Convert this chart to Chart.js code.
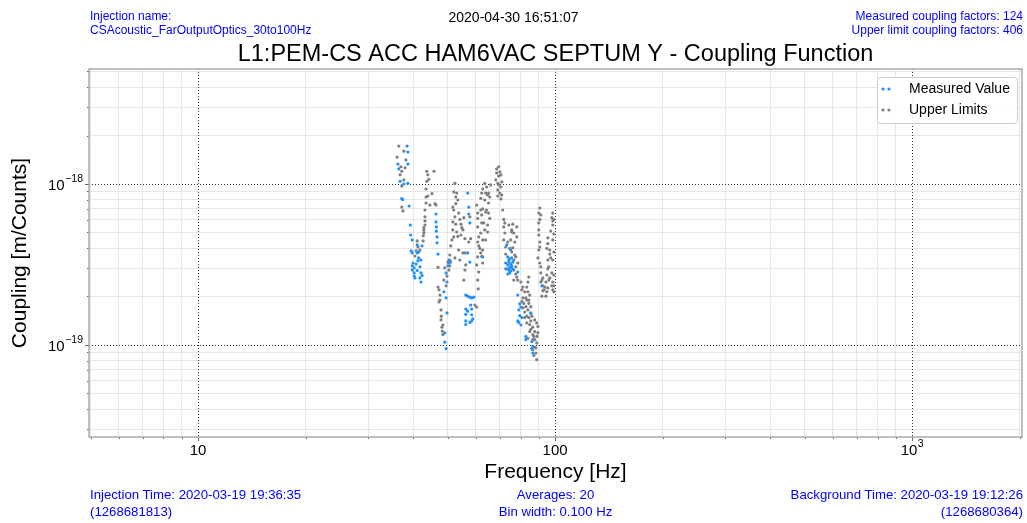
<!DOCTYPE html>
<html>
<head>
<meta charset="utf-8">
<script src="https://cdn.jsdelivr.net/npm/chart.js@4"></script>
<style>
  html, body { margin: 0; padding: 0; background: #fff; }
  #wrap { position: relative; width: 1027px; height: 523px; }
  #coupling { position: absolute; left: 0; top: 0; }
  .note {
    position: absolute; white-space: nowrap; color: #0000ff;
    font-family: 'Liberation Sans', Arial, sans-serif;
  }
  .head { font-size: 12px; line-height: 14px; top: 9px; }
  .foot { font-size: 13.2px; line-height: 17px; top: 486px; }
</style>
</head>
<body>
<div id="wrap">
  <canvas id="coupling" width="1027" height="523"></canvas>
  <div class="note head" style="left:90px">Injection name:<br>CSAcoustic_FarOutputOptics_30to100Hz</div>
  <div class="note head" style="left:0;width:1027px;text-align:center;color:#000;font-size:14px;top:10px">2020-04-30 16:51:07</div>
  <div class="note head" style="right:4px;text-align:right">Measured coupling factors: 124<br>Upper limit coupling factors: 406</div>
  <div class="note foot" style="left:90px">Injection Time: 2020-03-19 19:36:35<br>(1268681813)</div>
  <div class="note foot" style="left:89px;width:933px;text-align:center">Averages: 20<br>Bin width: 0.100 Hz</div>
  <div class="note foot" style="right:4px;text-align:right">Background Time: 2020-03-19 19:12:26<br>(1268680364)</div>
</div>
<script>
// coupling values are given in units of 1e-19 m/Counts
const COUPLING_UNIT = 1e-19;

// measured coupling factors (Hz, coupling)
const measuredFreq = [
  38.5, 38.7, 36.3, 36.5, 38.7, 36.8, 38.7, 37.7, 37.2, 37.4, 39.0,
  39.3, 39.4, 39.8, 39.5, 39.8, 41.1, 41.1, 42.4, 42.1, 41.5, 41.3,
  40.0, 39.8, 40.3, 40.3, 40.3, 40.5, 42.1, 41.8, 42.1, 41.8, 40.8, 41.5,
  46.4, 46.4, 46.5, 46.5, 46.7, 46.7, 47.0, 50.4, 50.7, 50.1, 49.5, 49.8, 48.8, 49.5, 49.8, 49.1, 49.1, 49.5,
  56.9, 57.3, 57.3, 57.7, 56.9, 57.7, 56.2, 56.9, 57.7, 58.4, 59.2, 56.2, 56.2, 58.0, 58.4, 58.4, 58.8, 56.2, 56.2, 58.4,
  62.7,
  73.2, 75.1, 73.7, 74.6, 75.6, 74.2, 75.1, 76.1, 73.7, 74.6, 75.6, 74.2, 75.1, 73.7, 76.1, 78.6, 72.7,
  78.6, 79.6, 79.1, 79.6, 78.6, 80.7, 80.2, 85.5, 82.8, 82.8, 86.1, 86.1, 86.6, 91.8,
  74.2, 75.1, 74.6, 73.2, 56.9, 57.7, 80.2, 79.1, 86.6, 39.8, 41.1, 42.4
];
const measuredCoupling = [
  17.2, 15.8, 13.3, 12.4, 13.3, 10.4, 10.1, 10.0, 8.1, 8.0, 7.3,
  5.56, 4.82, 4.49, 3.84, 3.73, 4.18, 3.73, 4.12, 3.37, 3.47, 3.33,
  3.23, 3.10, 3.01, 2.80, 2.68, 2.61, 2.80, 2.61, 2.46, 3.06, 3.18, 3.78,
  6.51, 5.81, 5.41, 5.10, 4.69, 4.31, 3.67, 3.23, 3.37, 3.10, 2.80, 2.46, 2.14, 1.96, 1.58, 1.19, 1.04, 0.95,
  8.78, 7.19, 6.51, 5.73, 3.73, 3.27, 2.04, 2.01, 1.98, 1.96, 1.98, 1.67, 1.55, 1.77, 1.67, 1.54, 1.45, 1.41, 1.34, 1.41,
  3.52,
  4.18, 3.89, 3.52, 3.42, 3.47, 3.27, 3.18, 3.27, 3.14, 3.03, 3.10, 2.92, 2.88, 2.76, 2.97, 2.84, 3.23,
  2.04, 1.80, 1.65, 1.52, 1.41, 1.48, 1.33, 1.57, 1.13, 1.08, 1.05, 0.95, 0.89, 2.33,
  3.37, 3.03, 2.80, 2.97, 1.62, 1.38, 1.72, 1.38, 0.98, 2.92, 2.90, 2.70
];

// upper limit coupling factors (Hz, coupling)
const upperFreq = [
  36.5, 37.7, 36.1, 37.0, 37.2, 38.0, 37.7, 37.2, 37.2, 37.5, 36.8, 38.2,
  41.1, 40.8, 41.3, 40.5, 41.8,
  43.7, 43.7, 44.3, 43.5, 43.5, 44.0, 43.2, 43.2, 43.2, 42.9, 42.9, 42.7, 42.7, 45.8, 44.6, 45.2,
  46.1, 46.4, 47.0, 47.0, 47.3, 47.6, 47.9, 48.2, 48.3, 48.5, 47.9, 47.6, 50.4, 51.0, 50.7, 50.4, 49.1, 49.8, 48.8, 49.5,
  52.4, 52.0, 53.0, 52.7, 52.7, 52.0, 53.7, 51.7, 52.7, 54.5, 54.8, 54.1, 52.0, 51.4, 53.4, 55.9, 55.5, 51.7, 57.7, 58.0,
  57.3, 55.9, 55.9, 55.2, 52.4, 59.6, 60.3, 50.1,
  63.5, 66.0, 62.3, 63.9, 65.1, 65.6, 61.9, 65.1, 61.9, 62.7, 63.9, 64.3, 65.1, 60.7, 60.7, 62.3, 63.1, 64.7, 64.7, 61.9,
  62.7, 60.7, 61.1, 62.7, 61.9, 62.3, 60.7, 61.1, 60.9, 63.9, 63.5,
  68.6, 68.6, 70.0, 69.5, 70.9, 70.5, 69.1, 70.0, 70.9, 69.1, 70.5, 69.5, 68.2,
  71.8, 71.8, 72.3, 71.8, 75.6, 76.6, 78.1, 75.1, 76.1, 75.6, 77.6, 76.6, 77.6, 78.1, 78.6, 72.7, 72.7, 76.6, 77.1, 71.3,
  78.1, 75.6,
  84.4, 83.9, 83.3, 83.9, 84.9, 83.3, 84.4, 82.8, 83.9, 85.5, 83.3, 87.7, 86.6, 88.8, 87.7, 89.5, 86.6, 88.8, 87.7, 88.3,
  88.8, 81.2, 81.7, 81.2, 82.2, 80.7, 84.9, 87.2,
  90.6, 90.0, 90.0, 90.6, 89.5, 90.6, 91.2, 91.8, 92.4, 92.4, 93.0, 91.8, 97.9, 98.5, 95.4, 94.8, 96.6, 95.4, 96.0, 94.8,
  94.2, 96.0, 97.9, 98.5, 99.2, 94.8, 94.2, 98.5, 98.5, 98.5, 99.2, 91.2, 90.0,
  47.3, 48.0, 48.5,
  53.4, 51.7, 54.5, 53.0, 52.4, 55.2, 53.7, 51.0, 50.7, 54.1, 56.2, 55.5,
  64.3, 62.7, 64.7, 60.3, 62.3, 65.6, 63.5, 60.7, 61.5, 62.7, 60.3, 60.7, 61.1,
  69.5, 70.5, 69.1,
  72.3, 74.2, 76.1, 73.7, 77.1, 74.6, 78.6, 77.6, 72.7, 76.6,
  80.2, 81.2, 82.2, 80.7, 82.8, 84.4, 85.5, 86.1, 84.4, 83.3, 85.5, 86.6, 84.9, 87.7, 89.0, 86.6, 87.2, 88.3, 89.5, 85.5,
  82.2, 83.9,
  90.0, 90.6, 90.0, 90.6, 91.2, 92.4, 91.2, 93.6, 97.2, 95.4, 96.6, 97.2, 95.4, 97.9, 96.6, 98.5, 99.2, 95.4, 99.2, 98.5,
  99.2, 99.2,
  44.0, 43.5, 43.2, 42.9
];
const upperCoupling = [
  17.2, 16.0, 14.7, 12.8, 12.0, 12.6, 10.6, 9.71, 7.19, 6.80, 11.4, 14.1,
  4.43, 3.84, 4.06, 3.57, 3.89,
  12.0, 10.4, 10.7, 9.31, 8.30, 8.42, 6.89, 6.25, 5.56, 5.35, 5.15, 4.77, 4.43, 12.0, 7.40, 8.70,
  7.55, 7.40, 3.03, 2.29, 2.20, 2.04, 1.43, 1.29, 1.22, 1.16, 1.65, 1.90, 3.37, 3.27, 3.10, 2.92, 3.01, 2.68, 2.53, 2.33,
  10.1, 8.92, 8.78, 8.30, 7.55, 6.89, 6.60, 5.81, 5.63, 5.63, 5.35, 6.02, 4.69, 4.49, 4.72, 4.57, 6.18, 5.18, 6.25, 4.57,
  4.36, 3.73, 2.92, 3.73, 3.47, 1.77, 1.72, 3.27,
  10.1, 9.86, 8.78, 8.78, 8.78, 8.30, 8.14, 7.62, 6.89, 7.00, 6.70, 6.89, 6.60, 6.60, 6.12, 5.73, 5.73, 5.56, 5.03, 4.96,
  4.49, 4.36, 4.12, 3.89, 3.73, 3.55, 3.52, 2.84, 2.23, 4.49, 7.95,
  12.4, 11.7, 11.9, 11.2, 10.3, 9.58, 9.18, 8.78, 8.54, 8.42, 8.07, 9.86, 10.6,
  6.02, 5.41, 4.96, 4.49, 5.18, 4.96, 4.69, 4.49, 4.01, 3.78, 3.52, 3.37, 3.06, 2.64, 2.53, 4.06, 3.67, 2.92, 3.62, 6.89,
  5.41, 5.03,
  2.64, 2.46, 2.29, 2.14, 2.04, 1.90, 1.81, 1.73, 1.65, 1.58, 1.51, 1.43, 1.29, 1.37, 1.21, 1.19, 1.08, 1.03, 0.97, 0.89,
  0.81, 1.96, 1.81, 1.70, 1.60, 2.20, 1.34, 1.13,
  7.08, 5.73, 5.18, 4.36, 3.47, 3.23, 2.80, 2.53, 2.33, 2.17, 2.20, 2.01, 6.18, 5.89, 4.63, 3.98, 3.67, 3.37, 3.06, 2.72,
  2.46, 2.53, 2.33, 2.20, 2.14, 2.14, 2.01, 5.56, 4.49, 3.37, 2.72, 6.42, 3.89,
  1.85, 1.51, 1.33,
  7.95, 7.19, 4.82, 5.03, 6.25, 5.18, 3.89, 4.12, 3.62, 3.37, 3.14, 2.53,
  9.58, 9.31, 8.54, 7.40, 6.42, 6.12, 5.18, 5.41, 3.98, 3.23, 3.14, 2.53, 4.69,
  12.8, 11.4, 10.1,
  5.73, 5.56, 5.63, 4.36, 4.36, 3.98, 3.23, 2.76, 2.97, 2.53,
  2.46, 2.29, 2.14, 1.86, 1.96, 1.90, 1.73, 1.51, 1.48, 1.37, 1.25, 1.16, 1.21, 1.08, 1.13, 0.93, 0.86, 0.96, 1.30, 1.41,
  1.48, 1.10,
  6.60, 6.02, 4.82, 4.06, 3.06, 2.61, 2.46, 2.29, 5.10, 4.26, 3.89, 3.47, 2.97, 2.80, 2.61, 2.46, 2.33, 2.26, 4.89, 6.60,
  6.02, 3.78,
  11.4, 7.62, 5.89, 4.96
];

// labelled decades: [base, exponent]
const xTickValues = [10, 100, 1000];
const xTickLabels = [['10', ''], ['100', ''], ['10', '3']];
const yTickValues = [1e-19, 1e-18];
const yTickLabels = [['10', '\u221219'], ['10', '\u221218']];

const FONT = "'Liberation Sans', Arial, sans-serif";
const X_MIN = 4.95, X_MAX = 2030;
const Y_MIN = 2.68e-20, Y_MAX = 5.18e-18;

const toPoints = (fs, cs) => fs.map((f, i) => ({ x: f, y: cs[i] * COUPLING_UNIT }));

// 1..9 x 10^n ticks; the 1 x 10^n ones are majors
function decadeTicks(min, max) {
  const out = [];
  for (let e = Math.floor(Math.log10(min)); e <= Math.ceil(Math.log10(max)); e++) {
    for (let m = 1; m < 10; m++) {
      const v = m * Math.pow(10, e);
      if (v >= min && v <= max) out.push({ value: v, major: m === 1 });
    }
  }
  return out;
}

const minorGrid = ctx => (ctx.tick && ctx.tick.major) ? 'rgba(0,0,0,0)' : '#e6e6e6';

// "10" with a raised exponent; align is 'center' or 'right'
function drawPow(ctx, label, x, y, align) {
  const [base, exp] = label;
  ctx.font = '15px ' + FONT;
  const wb = ctx.measureText(base).width;
  ctx.font = '10.5px ' + FONT;
  const we = exp ? ctx.measureText(exp).width + 0.5 : 0;
  const x0 = align === 'right' ? x - wb - we : x - (wb + we) / 2;
  ctx.textAlign = 'left';
  ctx.textBaseline = 'middle';
  ctx.font = '15px ' + FONT;
  ctx.fillText(base, x0, y);
  if (exp) {
    ctx.font = '10.5px ' + FONT;
    ctx.fillText(exp, x0 + wb + 0.5, y - 6.5);
  }
}

// dotted decade lines, ticks, labels, frame and legend
const framePlugin = {
  id: 'frame',
  beforeDatasetsDraw(chart) {
    const { ctx, chartArea: a, scales: { x, y } } = chart;
    ctx.save();
    ctx.strokeStyle = '#333';
    ctx.lineWidth = 1;
    ctx.setLineDash([1, 2]);
    xTickValues.forEach(v => {
      const px = Math.round(x.getPixelForValue(v)) + 0.5;
      if (px < a.left || px > a.right) return;
      ctx.beginPath(); ctx.moveTo(px, a.top); ctx.lineTo(px, a.bottom); ctx.stroke();
    });
    yTickValues.forEach(v => {
      const py = Math.round(y.getPixelForValue(v)) + 0.5;
      ctx.beginPath(); ctx.moveTo(a.left, py); ctx.lineTo(a.right, py); ctx.stroke();
    });
    ctx.restore();
  },
  afterDatasetsDraw(chart) {
    const { ctx, chartArea: a, scales: { x, y } } = chart;
    ctx.save();
    ctx.strokeStyle = '#666';
    ctx.lineWidth = 1;
    x.ticks.forEach(t => {
      const px = Math.round(x.getPixelForValue(t.value)) + 0.5;
      ctx.beginPath(); ctx.moveTo(px, a.bottom); ctx.lineTo(px, a.bottom + (t.major ? 4 : 2)); ctx.stroke();
    });
    y.ticks.forEach(t => {
      const py = Math.round(y.getPixelForValue(t.value)) + 0.5;
      ctx.beginPath(); ctx.moveTo(a.left, py); ctx.lineTo(a.left - (t.major ? 4 : 2), py); ctx.stroke();
    });
    ctx.strokeStyle = '#aaa';
    ctx.lineWidth = 1.5;
    ctx.strokeRect(a.left, a.top, a.right - a.left, a.bottom - a.top);

    ctx.fillStyle = '#000';
    xTickValues.forEach((v, i) => drawPow(ctx, xTickLabels[i], x.getPixelForValue(v), a.bottom + 14, 'center'));
    yTickValues.forEach((v, i) => drawPow(ctx, yTickLabels[i], a.left - 6, y.getPixelForValue(v) + 1.5, 'right'));

    // legend box, upper right
    const bx = a.right - 145, by = a.top + 8, bw = 140, bh = 46;
    ctx.fillStyle = 'rgba(255,255,255,0.9)';
    ctx.strokeStyle = '#cccccc';
    ctx.lineWidth = 1;
    ctx.beginPath();
    ctx.roundRect(bx + 0.5, by + 0.5, bw, bh, 3);
    ctx.fill(); ctx.stroke();
    ctx.font = '14px ' + FONT;
    ctx.textAlign = 'left';
    ctx.textBaseline = 'middle';
    chart.data.datasets.forEach((ds, i) => {
      const ly = by + 12 + i * 21;
      ctx.fillStyle = ds.backgroundColor;
      [bx + 6, bx + 12].forEach(mx => {
        ctx.beginPath(); ctx.arc(mx, ly, 1.6, 0, Math.PI * 2); ctx.fill();
      });
      ctx.fillStyle = '#000';
      ctx.fillText(ds.label, bx + 32, ly);
    });
    ctx.restore();
  }
};

new Chart(document.getElementById('coupling'), {
  type: 'scatter',
  data: {
    datasets: [
      {
        label: 'Measured Value',
        data: toPoints(measuredFreq, measuredCoupling),
        backgroundColor: '#1e90ff',
        borderWidth: 0,
        pointRadius: 1.6,
        order: 0
      },
      {
        label: 'Upper Limits',
        data: toPoints(upperFreq, upperCoupling),
        backgroundColor: '#7f7f7f',
        borderWidth: 0,
        pointRadius: 1.6,
        order: 1
      }
    ]
  },
  options: {
    responsive: false,
    animation: false,
    devicePixelRatio: 1,
    layout: { padding: { left: 0, right: 5, top: 0, bottom: 0 } },
    plugins: {
      legend: { display: false },
      tooltip: { enabled: false },
      title: {
        display: true,
        fullSize: false,
        text: 'L1:PEM-CS ACC HAM6VAC SEPTUM Y - Coupling Function',
        color: '#000',
        font: { family: FONT, size: 23.5, weight: 'normal', lineHeight: 1 },
        padding: { top: 43, bottom: 2.5 }
      }
    },
    scales: {
      x: {
        type: 'logarithmic',
        min: X_MIN,
        max: X_MAX,
        afterBuildTicks: s => { s.ticks = decadeTicks(X_MIN, X_MAX); },
        afterFit: s => { s.height = 86; },
        border: { display: false },
        grid: { color: minorGrid, lineWidth: 1, drawTicks: false },
        ticks: { display: false },
        title: {
          display: true, text: 'Frequency [Hz]', color: '#000',
          font: { family: FONT, size: 21 }, padding: { top: 0, bottom: 38.4 }
        }
      },
      y: {
        type: 'logarithmic',
        min: Y_MIN,
        max: Y_MAX,
        afterBuildTicks: s => { s.ticks = decadeTicks(Y_MIN, Y_MAX); },
        afterFit: s => { s.width = 89; },
        border: { display: false },
        grid: { color: minorGrid, lineWidth: 1, drawTicks: false },
        ticks: { display: false },
        title: {
          display: true, text: 'Coupling [m/Counts]', color: '#000',
          font: { family: FONT, size: 21 }, padding: { top: 7.4, bottom: 0 }
        }
      }
    }
  },
  plugins: [framePlugin]
});
</script>
</body>
</html>
